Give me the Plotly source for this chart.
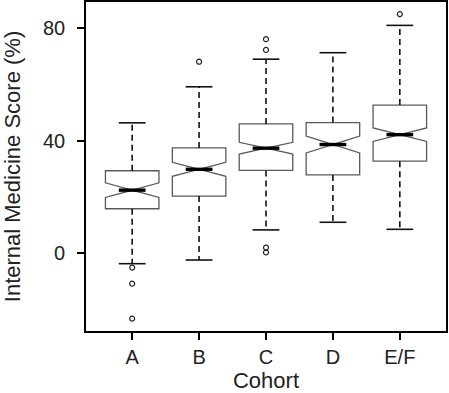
import plotly.graph_objects as go

cohorts = ["A", "B", "C", "D", "E/F"]
q1 = [15.8, 20.3, 29.4, 27.8, 32.7]
median = [22.4, 29.8, 37.3, 38.6, 42.1]
q3 = [29.3, 37.4, 45.9, 46.4, 52.6]
lower_whisker = [-3.7, -2.4, 8.3, 11.0, 8.5]
upper_whisker = [46.3, 59.1, 68.9, 71.2, 80.9]
notch_half = [2.6, 2.5, 2.1, 3.0, 2.4]
outlier_cohort = [0, 0, 0, 1, 2, 2, 2, 2, 4]
outlier_value = [-5.1, -10.8, -23.2, 68.0, 76.0, 72.2, 2.0, 0.3, 84.9]

pos = list(range(len(cohorts)))
half_box = 0.4
half_inner = 0.2

fig = go.Figure()

# notched boxes (whiskers drawn separately)
fig.add_trace(go.Box(
    x=pos, q1=q1, median=median, q3=q3,
    lowerfence=q1, upperfence=q3,
    notchspan=notch_half, notched=True, notchwidth=0.5,
    whiskerwidth=0, width=2 * half_box,
    fillcolor="rgba(0,0,0,0)",
    line=dict(color="#5a5a5a", width=1.3),
    boxpoints=False, hoverinfo="skip", showlegend=False,
))

# dashed whiskers
wx, wy = [], []
for i in pos:
    wx += [i, i, None, i, i, None]
    wy += [q3[i], upper_whisker[i], None, q1[i], lower_whisker[i], None]
fig.add_trace(go.Scatter(x=wx, y=wy, mode="lines",
                         line=dict(color="#111", width=1.6, dash="6px,4px"),
                         showlegend=False, hoverinfo="skip"))

# staples
sx, sy = [], []
for i in pos:
    for v in (upper_whisker[i], lower_whisker[i]):
        sx += [i - half_inner, i + half_inner, None]
        sy += [v, v, None]
fig.add_trace(go.Scatter(x=sx, y=sy, mode="lines",
                         line=dict(color="#111", width=1.6),
                         showlegend=False, hoverinfo="skip"))

# medians
mx, my = [], []
for i in pos:
    mx += [i - half_inner, i + half_inner, None]
    my += [median[i], median[i], None]
fig.add_trace(go.Scatter(x=mx, y=my, mode="lines",
                         line=dict(color="#000", width=3.4),
                         showlegend=False, hoverinfo="skip"))

# outliers
fig.add_trace(go.Scatter(x=outlier_cohort, y=outlier_value, mode="markers",
                         marker=dict(symbol="circle-open", size=5,
                                     color="#222", line=dict(width=1.2)),
                         showlegend=False, hoverinfo="skip"))

fig.update_layout(
    width=449, height=393,
    margin=dict(l=86, r=3, t=2, b=62, autoexpand=False),
    paper_bgcolor="white", plot_bgcolor="white",
    font=dict(family="Liberation Sans, Arial, sans-serif", color="#222", size=20),
)
fig.update_xaxes(
    range=[-0.69, 4.69], tickvals=pos, ticktext=cohorts,
    showgrid=False, zeroline=False, automargin=False,
    showline=True, mirror=True, linecolor="#000", linewidth=1.6,
    ticks="outside", ticklen=7, tickwidth=1.6, tickcolor="#000",
    tickfont=dict(size=20),
    title=dict(text="Cohort", font=dict(size=22), standoff=10),
)
fig.update_yaxes(
    range=[-27.6, 89.2], tickvals=[0, 40, 80],
    showgrid=False, zeroline=False, automargin=False,
    showline=True, mirror=True, linecolor="#000", linewidth=1.6,
    ticks="outside", ticklen=7, tickwidth=1.6, tickcolor="#000",
    ticklabelstandoff=8,
    tickfont=dict(size=20),
    title=dict(text="Internal Medicine Score (%)", font=dict(size=22), standoff=18),
)

fig.write_html("out.html",
               config={"displayModeBar": False},
               post_script="document.body.style.margin='0';document.body.style.padding='0';")
